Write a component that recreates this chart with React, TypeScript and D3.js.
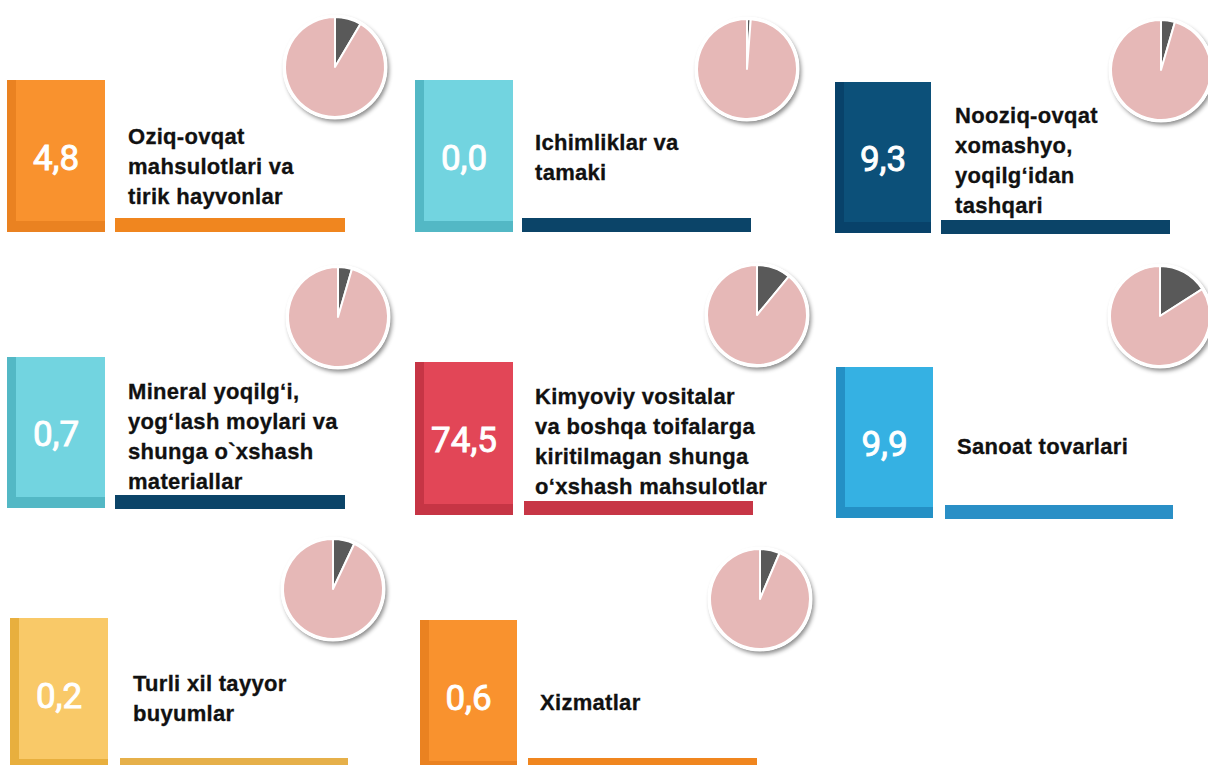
import React from "react";
import * as d3 from "d3";

// ---- data ----
const categories: string[][] = [
  ["Oziq-ovqat", "mahsulotlari va", "tirik hayvonlar"],
  ["Ichimliklar va", "tamaki"],
  ["Nooziq-ovqat", "xomashyo,", "yoqilg‘idan", "tashqari"],
  ["Mineral yoqilg‘i,", "yog‘lash moylari va", "shunga o`xshash", "materiallar"],
  ["Kimyoviy vositalar", "va boshqa toifalarga", "kiritilmagan shunga", "o‘xshash mahsulotlar"],
  ["Sanoat tovarlari"],
  ["Turli xil tayyor", "buyumlar"],
  ["Xizmatlar"],
];
const values: number[] = [4.8, 0.0, 9.3, 0.7, 74.5, 9.9, 0.2, 0.6];
const pieShares: number[] = [0.085, 0.012, 0.045, 0.045, 0.11, 0.16, 0.07, 0.064];

// ---- layout & style (not data) ----
type Layout = {
  sx: number; sy: number; sw: number; sh: number;
  ux: number; uy: number; uw: number;
  lx: number; lc: number;
  px: number; py: number;
  main: string; dark: string; under: string;
};
const ORANGE = { main: "#F9922E", dark: "#EA8221" };
const CYAN = { main: "#72D4E0", dark: "#53B8C5" };
const NAVY = { main: "#0C5079", dark: "#08426A" };
const RED = { main: "#E24657", dark: "#C63545" };
const BLUE = { main: "#35B1E3", dark: "#2490C5" };
const YELLOW = { main: "#F9C968", dark: "#E8AF3E" };

const layouts: Layout[] = [
  { sx: 7, sy: 80, sw: 98, sh: 152, ux: 115, uy: 218, uw: 230, lx: 128, lc: 166, px: 335, py: 67, ...ORANGE, under: "#F0861F" },
  { sx: 415, sy: 80, sw: 98, sh: 152, ux: 522, uy: 218, uw: 229, lx: 535, lc: 157, px: 747, py: 69, ...CYAN, under: "#0B4468" },
  { sx: 835, sy: 82, sw: 96, sh: 151, ux: 941, uy: 220, uw: 229, lx: 955, lc: 160, px: 1161, py: 70, ...NAVY, under: "#0B4468" },
  { sx: 7, sy: 357, sw: 98, sh: 151, ux: 115, uy: 495, uw: 230, lx: 128, lc: 436, px: 338, py: 317, ...CYAN, under: "#0B4468" },
  { sx: 415, sy: 362, sw: 98, sh: 153, ux: 524, uy: 501, uw: 229, lx: 535, lc: 441, px: 757, py: 315, ...RED, under: "#C73646" },
  { sx: 836, sy: 367, sw: 97, sh: 151, ux: 945, uy: 505, uw: 228, lx: 957, lc: 446, px: 1160, py: 316, ...BLUE, under: "#2A8FC6" },
  { sx: 10, sy: 618, sw: 98, sh: 152, ux: 120, uy: 758, uw: 228, lx: 133, lc: 698, px: 333, py: 589, ...YELLOW, under: "#E6B04A" },
  { sx: 420, sy: 620, sw: 97, sh: 152, ux: 528, uy: 758, uw: 229, lx: 540, lc: 702, px: 760, py: 599, ...ORANGE, under: "#F0861F" },
];

const LINE_H = 30;
const PIE_R = 50;

const fmt = (v: number) => d3.format(".1f")(v).replace(".", ",");
const pieGen = d3.pie<number>().sort(null).value((d) => d);
const arcGen = d3.arc<d3.PieArcDatum<number>>().innerRadius(0).outerRadius(PIE_R);

function Panel({ i }: { i: number }) {
  const L = layouts[i];
  const lines = categories[i];
  const share = pieShares[i];
  const arcs = pieGen([share, 1 - share]);
  const first = L.lc - ((lines.length - 1) * LINE_H) / 2;
  return (
    <g>
      {/* tile */}
      <rect x={L.sx} y={L.sy} width={L.sw} height={L.sh} fill={L.dark} />
      <rect x={L.sx + 9} y={L.sy} width={L.sw - 9} height={L.sh - 11} fill={L.main} />
      <text
        x={L.sx + L.sw / 2}
        y={L.sy + L.sh / 2 + 2}
        textAnchor="middle"
        dominantBaseline="central"
        fill="#fff"
        stroke="#fff"
        strokeWidth={0.9}
        style={{ fontFamily: "Roboto, sans-serif", fontWeight: 400, fontSize: 35 }}
      >
        {fmt(values[i])}
      </text>
      {/* label */}
      <text
        style={{ fontFamily: "\"Liberation Sans\", Arial, sans-serif", fontWeight: 700, fontSize: 22, letterSpacing: 0.3 }}
        fill="#111"
        stroke="#111"
        strokeWidth={0.3}
      >
        {lines.map((ln, k) => (
          <tspan key={k} x={L.lx} y={first + k * LINE_H} dominantBaseline="central">
            {ln}
          </tspan>
        ))}
      </text>
      {/* underline */}
      <rect x={L.ux} y={L.uy} width={L.uw} height={14} fill={L.under} />
      {/* pie */}
      <g transform={`translate(${L.px},${L.py})`}>
        <circle r={PIE_R + 2} fill="#fff" filter="url(#pieShadow)" />
        {arcs.map((a, k) => (
          <path
            key={k}
            d={arcGen(a) || ""}
            fill={k === 0 ? "#595959" : "#E6B8B7"}
            stroke="#fff"
            strokeWidth={2}
            strokeLinejoin="round"
          />
        ))}
        <circle r={PIE_R + 1} fill="none" stroke="#fff" strokeWidth={3} />
      </g>
    </g>
  );
}

export default function App() {
  return (
    <svg
      width={1208}
      height={765}
      style={{ position: "absolute", left: 0, top: 0, background: "#fff" }}
    >
      <defs>
        <filter id="pieShadow" x="-30%" y="-30%" width="160%" height="160%">
          <feDropShadow dx={2} dy={3} stdDeviation={2} floodColor="#000" floodOpacity={0.45} />
        </filter>
      </defs>
      {categories.map((_, i) => (
        <Panel key={i} i={i} />
      ))}
    </svg>
  );
}
